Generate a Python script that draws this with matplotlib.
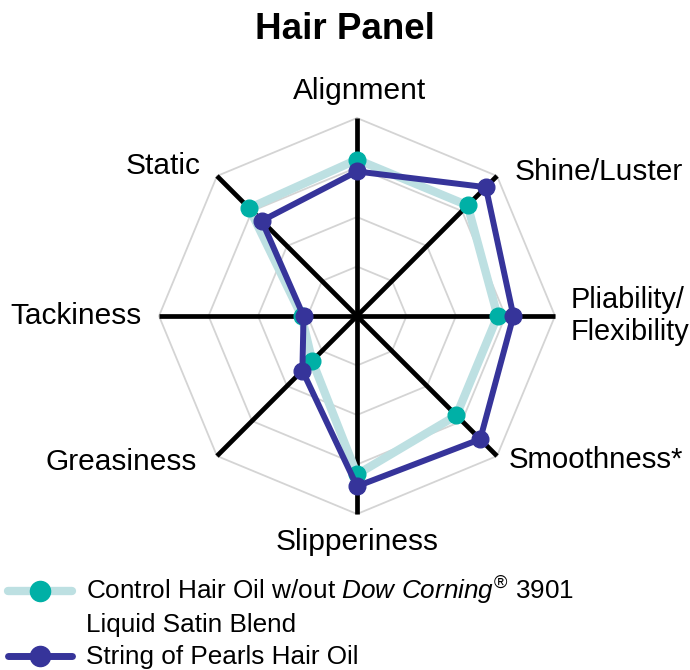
import numpy as np
import matplotlib
matplotlib.use("Agg")
import matplotlib.pyplot as plt

plt.rcParams['font.family'] = ['Liberation Sans', 'DejaVu Sans']
plt.rcParams['mathtext.fontset'] = 'custom'
plt.rcParams['mathtext.rm'] = 'Liberation Sans'
plt.rcParams['mathtext.it'] = 'Liberation Sans:italic'

# attributes, clockwise from the top
attributes = ['Alignment', 'Shine/Luster', 'Pliability/\nFlexibility', 'Smoothness*',
              'Slipperiness', 'Greasiness', 'Tackiness', 'Static']
# scores on a 0-10 scale
control = [7.9, 7.9, 7.1, 7.1, 8.0, 3.2, 2.8, 7.7]
pearls = [7.3, 9.2, 7.9, 8.8, 8.6, 3.9, 2.7, 6.8]
rings = [2.5, 5.0, 7.5, 10.0]

control_label = r"Control Hair Oil w/out $\mathit{Dow\ Corning}^{®}$ 3901"
control_label2 = "Liquid Satin Blend"
pearls_label = "String of Pearls Hair Oil"

teal_line = '#bde0e2'
teal_dot = '#00b0a6'
navy = '#36349a'

W, H = 690, 670
fig = plt.figure(figsize=(6.9, 6.7), dpi=100)

# radar centred at (357, 316) px, radius 198 px
cx, cy, R = 357, 316, 198
ax = fig.add_axes([(cx - R) / W, (H - cy - R) / H, 2 * R / W, 2 * R / H], projection='polar')
ax.set_theta_zero_location('N')
ax.set_theta_direction(-1)
ax.set_ylim(0, 10)
ax.grid(False)
ax.set_xticks([])
ax.set_yticks([])
ax.spines['polar'].set_visible(False)
ax.patch.set_alpha(0)

n = len(attributes)
theta = np.linspace(0, 2 * np.pi, n, endpoint=False)
theta_c = np.append(theta, theta[0])

# octagon grid
for r in rings:
    ax.plot(theta_c, [r] * (n + 1), color='#d4d4d4', lw=1.3, zorder=1, clip_on=False)

# spokes
for t in theta:
    ax.plot([t, t], [0, rings[-1]], color='black', lw=3.4, zorder=2, clip_on=False,
            solid_capstyle='butt')

ax.plot(theta_c, control + control[:1], color=teal_line, lw=6, zorder=3)
ax.plot(theta, control, 'o', color=teal_dot, ms=12, zorder=4)
ax.plot(theta_c, pearls + pearls[:1], color=navy, lw=4.3, zorder=5)
ax.plot(theta, pearls, 'o', color=navy, ms=12, zorder=6)

# attribute labels: offsets in px from the spoke ends, font size
offsets = [(3, 27, 'center', 21.5), (18, 4, 'left', 21.5), (16, 0, 'left', 20.8),
           (12, -4, 'left', 21.2), (0, -28, 'center', 21.5), (-20, -6, 'right', 21.5),
           (-17, 0, 'right', 21.5), (-17, 10, 'right', 21.5)]
for t, lab, (dx, dy, ha, fs) in zip(theta, attributes, offsets):
    ax.annotate(lab, xy=(t, rings[-1]), xytext=(dx * 0.72, dy * 0.72),
                textcoords='offset points', ha=ha, va='center', fontsize=fs,
                annotation_clip=False)

fig.text(345 / W, 1 - 39 / H, 'Hair Panel', ha='center', va='baseline',
         fontsize=26.5, fontweight='bold')

# legend drawn in a pixel-scaled axes along the bottom
lg = fig.add_axes([0, 0, 1, 100 / H])
lg.set_xlim(0, W)
lg.set_ylim(H, H - 100)
lg.axis('off')
lg.plot([8, 72], [591, 591], color=teal_line, lw=6, solid_capstyle='round', clip_on=False)
lg.plot([40], [591], 'o', color=teal_dot, ms=14.5)
lg.plot([8, 72], [656, 656], color=navy, lw=5, solid_capstyle='round', clip_on=False)
lg.plot([40], [656], 'o', color=navy, ms=14.5, clip_on=False)
lg.text(86, 600, control_label, fontsize=18.8, va='baseline')
lg.text(86, 632, control_label2, fontsize=18.8, va='baseline')
lg.text(86, 664, pearls_label, fontsize=18.8, va='baseline')

fig.savefig('out.png', dpi=100)
